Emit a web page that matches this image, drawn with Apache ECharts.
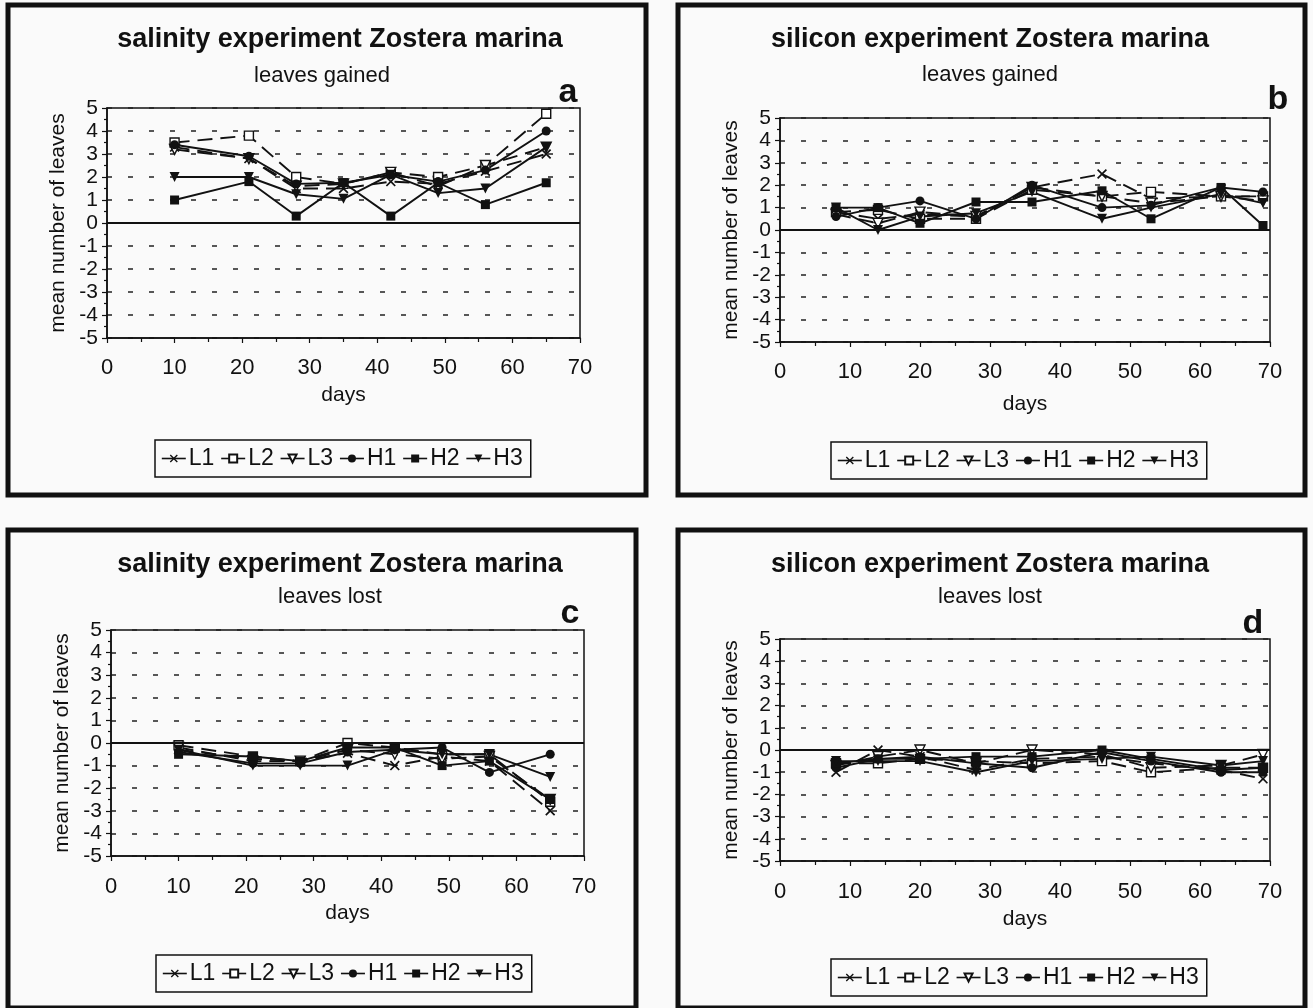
<!DOCTYPE html>
<html><head><meta charset="utf-8">
<script src="https://cdn.jsdelivr.net/npm/echarts@6/dist/echarts.min.js"></script>
<style>html,body{margin:0;padding:0;background:#fafafa}#c{width:1313px;height:1008px}</style>
</head><body><div id="c"></div>
<script>
// ---------- data ----------
const seriesNames = ['L1','L2','L3','H1','H2','H3'];
const xTicks = [0,10,20,30,40,50,60,70];
const yTicks = [-5,-4,-3,-2,-1,0,1,2,3,4,5];

const daysSalinity = [10,21,28,35,42,49,56,65];
const daysSilicon  = [8,14,20,28,36,46,53,63,69];

// a: salinity, leaves gained
const salGainL1 = [3.3, 2.8, 1.5, 1.5, 1.8, 1.7, 2.25, 3.0];
const salGainL2 = [3.5, 3.8, 2.0, 1.7, 2.2, 2.0, 2.5, 4.75];
const salGainL3 = [3.2, 2.8, 1.6, 1.7, 2.2, 1.6, 2.5, 3.3];
const salGainH1 = [3.4, 2.9, 1.7, 1.75, 2.1, 1.8, 2.3, 4.0];
const salGainH2 = [1.0, 1.8, 0.3, 1.75, 0.3, 1.75, 0.8, 1.75];
const salGainH3 = [2.0, 2.0, 1.25, 1.05, 2.1, 1.3, 1.5, 3.3];

// b: silicon, leaves gained
const silGainL1 = [0.8, 0.5, 0.7, 0.6, 1.9, 2.5, 1.4, 1.5, 1.5];
const silGainL2 = [0.8, 0.9, 0.5, 0.5, 1.8, 1.5, 1.7, 1.5, 1.5];
const silGainL3 = [0.7, 0.3, 0.8, 0.6, 1.9, 1.5, 1.2, 1.5, 1.3];
const silGainH1 = [0.6, 1.0, 1.3, 0.5, 2.0, 1.0, 1.1, 1.9, 1.7];
const silGainH2 = [1.0, 1.0, 0.3, 1.25, 1.25, 1.75, 0.5, 1.9, 0.2];
const silGainH3 = [1.0, 0.0, 0.6, 0.75, 1.7, 0.5, 1.0, 1.6, 1.2];

// c: salinity, leaves lost
const salLostL1 = [-0.3, -0.7, -0.8, -0.45, -1.0, -0.6, -0.8, -3.0];
const salLostL2 = [-0.1, -0.6, -0.8, 0.0, -0.2, -0.5, -0.5, -2.6];
const salLostL3 = [-0.2, -0.8, -0.8, -0.3, -0.5, -0.7, -0.6, -2.5];
const salLostH1 = [-0.4, -0.9, -0.9, -0.4, -0.3, -0.2, -1.3, -0.5];
const salLostH2 = [-0.5, -0.6, -0.8, -0.2, -0.2, -1.0, -0.8, -2.5];
const salLostH3 = [-0.3, -1.0, -1.0, -1.0, -0.3, -0.5, -0.5, -1.5];

// d: silicon, leaves lost
const silLostL1 = [-1.0, 0.0, -0.3, -0.9, -0.4, -0.3, -0.6, -0.9, -1.3];
const silLostL2 = [-0.6, -0.6, -0.4, -0.5, -0.6, -0.5, -1.0, -0.8, -0.8];
const silLostL3 = [-0.7, -0.3, 0.0, -0.6, 0.0, -0.2, -0.8, -0.7, -0.2];
const silLostH1 = [-0.8, -0.4, -0.3, -0.6, -0.8, -0.1, -0.5, -1.0, -1.0];
const silLostH2 = [-0.6, -0.4, -0.4, -0.3, -0.3, 0.0, -0.4, -0.9, -0.8];
const silLostH3 = [-0.5, -0.5, -0.5, -1.0, -0.5, -0.4, -0.3, -0.7, -0.5];

// ---------- layout / style ----------
const FONT = '"Liberation Sans Narrow","Liberation Sans",Arial,sans-serif';
const INK = '#111';
const panels = [
  {days: daysSalinity, data:[salGainL1,salGainL2,salGainL3,salGainH1,salGainH2,salGainH3],
   grid:{left:107, top:108, width:473, height:230}, frame:[8,5,638,490],
   title:'salinity experiment Zostera marina', sub:'leaves gained', letter:'a',
   tx:340, ty:40, sx:322, sy:76, lx:568, ly:93, legend:{left:155, top:440}, lm:19, ng:47},
  {days: daysSilicon, data:[silGainL1,silGainL2,silGainL3,silGainH1,silGainH2,silGainH3],
   grid:{left:780, top:118, width:490, height:224}, frame:[678,5,627,490],
   title:'silicon experiment Zostera marina', sub:'leaves gained', letter:'b',
   tx:990, ty:40, sx:990, sy:75, lx:1278, ly:100, legend:{left:831, top:442}, lm:19, ng:52},
  {days: daysSalinity, data:[salLostL1,salLostL2,salLostL3,salLostH1,salLostH2,salLostH3],
   grid:{left:111, top:630, width:473, height:226}, frame:[8,530,628,478],
   title:'salinity experiment Zostera marina', sub:'leaves lost', letter:'c',
   tx:340, ty:565, sx:330, sy:597, lx:570, ly:614, legend:{left:156, top:955}, lm:20, ng:47},
  {days: daysSilicon, data:[silLostL1,silLostL2,silLostL3,silLostH1,silLostH2,silLostH3],
   grid:{left:780, top:639, width:490, height:222}, frame:[678,530,627,478],
   title:'silicon experiment Zostera marina', sub:'leaves lost', letter:'d',
   tx:990, ty:565, sx:990, sy:597, lx:1253, ly:624, legend:{left:831, top:959}, lm:20, ng:48}
];

const XPATH = 'path://M0,1.2L1.2,0L5,3.8L8.8,0L10,1.2L6.2,5L10,8.8L8.8,10L5,6.2L1.2,10L0,8.8L3.8,5Z';
const symbolStyles = {
  L1:{symbol:XPATH, symbolSize:10, rotate:0, fill:INK, dashed:true},
  L2:{symbol:'rect', symbolSize:9, rotate:0, fill:'#fff', dashed:true},
  L3:{symbol:'triangle', symbolSize:10, rotate:180, fill:'#fff', dashed:true},
  H1:{symbol:'circle', symbolSize:9, rotate:0, fill:INK, dashed:false},
  H2:{symbol:'rect', symbolSize:9, rotate:0, fill:INK, dashed:false},
  H3:{symbol:'triangle', symbolSize:10, rotate:180, fill:INK, dashed:false}
};

const grids=[], xAxes=[], yAxes=[], series=[], legends=[], graphics=[];
panels.forEach((p, i) => {
  grids.push(Object.assign({show:true, borderColor:INK, borderWidth:1.5, backgroundColor:'transparent'}, p.grid));
  xAxes.push({gridIndex:i, type:'value', min:xTicks[0], max:xTicks[xTicks.length-1], interval:10,
    axisLine:{show:true, onZero:false, lineStyle:{color:INK, width:1.5}},
    axisTick:{show:true, length:5, lineStyle:{color:INK, width:1.2}},
    minorTick:{show:true, splitNumber:2, length:4, lineStyle:{color:INK, width:1.2}},
    splitLine:{show:false},
    axisLabel:{fontSize:22, color:INK, fontFamily:FONT, margin:p.lm},
    name:'days', nameLocation:'middle', nameGap:p.ng,
    nameTextStyle:{fontSize:21, color:INK, fontFamily:FONT}});
  yAxes.push({gridIndex:i, type:'value', min:yTicks[0], max:yTicks[yTicks.length-1], interval:1,
    axisLine:{show:true, onZero:false, lineStyle:{color:INK, width:1.5}},
    axisTick:{show:true, length:5, lineStyle:{color:INK, width:1.2}},
    minorTick:{show:true, splitNumber:2, length:3, lineStyle:{color:INK, width:1.2}},
    splitLine:{show:true, lineStyle:{type:[5,16], color:'#222', width:1.6}},
    axisLabel:{fontSize:21, color:INK, fontFamily:FONT, margin:9},
    name:'mean number of leaves', nameLocation:'middle', nameGap:38,
    nameTextStyle:{fontSize:21, color:INK, fontFamily:FONT}});
  seriesNames.forEach((nm, k) => {
    const st = symbolStyles[nm];
    const s = {
      name:nm, type:'line', xAxisIndex:i, yAxisIndex:i,
      data:p.days.map((d, j) => [d, p.data[k][j]]),
      symbol:st.symbol, symbolSize:st.symbolSize, symbolRotate:st.rotate, showAllSymbol:true,
      lineStyle:{color:INK, width:1.9, type: st.dashed ? [15,8] : 'solid'},
      itemStyle:{color:st.fill, borderColor:INK, borderWidth: st.fill==='#fff' ? 1.4 : 0},
      emphasis:{disabled:true}, animation:false, z:3
    };
    if (k === 0) {
      s.markLine = {silent:true, symbol:'none', label:{show:false}, animation:false,
        lineStyle:{color:INK, width:1.8, type:'solid'}, data:[{yAxis:0}]};
    }
    series.push(s);
  });
  legends.push({data:seriesNames, left:p.legend.left, top:p.legend.top, orient:'horizontal',
    borderColor:INK, borderWidth:1.5, padding:[7,8,7,6], itemGap:6, itemWidth:24, itemHeight:10,
    selectedMode:false, lineStyle:{type:'solid', width:1.6, color:INK},
    textStyle:{fontSize:23, color:INK, fontFamily:FONT, padding:[0,0,0,-2]}});
  const f = p.frame;
  graphics.push({type:'rect', shape:{x:f[0], y:f[1], width:f[2], height:f[3]},
    style:{fill:'none', stroke:INK, lineWidth:5}, silent:true});
  graphics.push({type:'text', x:p.tx, y:p.ty, style:{text:p.title, font:'bold 27px '+FONT, fill:INK, align:'center', verticalAlign:'middle'}});
  graphics.push({type:'text', x:p.sx, y:p.sy, style:{text:p.sub, font:'22px '+FONT, fill:INK, align:'center', verticalAlign:'middle'}});
  graphics.push({type:'text', x:p.lx, y:p.ly, style:{text:p.letter, font:'bold 34px '+FONT, fill:INK, align:'center', verticalAlign:'middle'}});
});

const chart = echarts.init(document.getElementById('c'), null, {renderer:'canvas'});
chart.setOption({
  backgroundColor:'#fafafa', animation:false,
  grid:grids, xAxis:xAxes, yAxis:yAxes, series:series, legend:legends, graphic:graphics
});
</script></body></html>
